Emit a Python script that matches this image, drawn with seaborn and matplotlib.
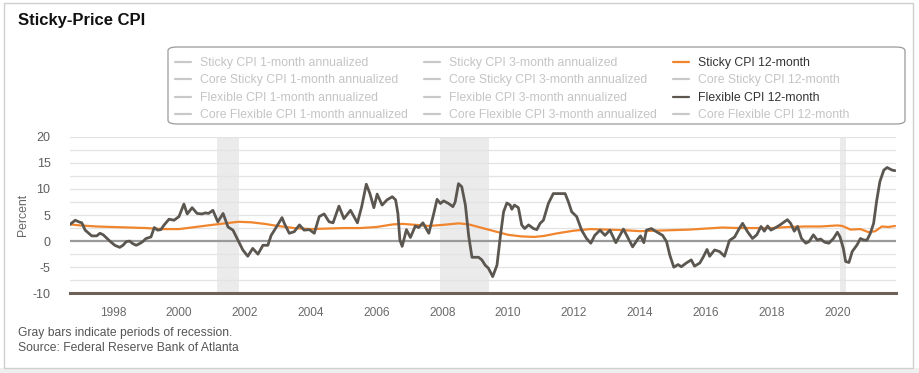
import matplotlib
matplotlib.use("Agg")
import matplotlib.pyplot as plt
import seaborn as sns
import pandas as pd
from matplotlib.lines import Line2D
from matplotlib.patches import FancyBboxPatch, Rectangle

# ---------------- data ----------------
flex_dates = [1996.69, 1996.85, 1996.95, 1997.05, 1997.15, 1997.35, 1997.5, 1997.6, 1997.7, 1997.9,
              1998.05, 1998.2, 1998.3, 1998.4, 1998.5, 1998.6, 1998.7, 1998.8, 1998.9, 1999.0,
              1999.15, 1999.25, 1999.35, 1999.45, 1999.55, 1999.7, 1999.85, 2000.0, 2000.15, 2000.25,
              2000.4, 2000.55, 2000.7, 2000.8, 2000.9, 2001.03, 2001.18, 2001.34, 2001.49, 2001.64,
              2001.79, 2001.94, 2002.09, 2002.24, 2002.4, 2002.55, 2002.7, 2002.8, 2002.95, 2003.13,
              2003.2, 2003.35, 2003.5, 2003.66, 2003.8, 2003.96, 2004.11, 2004.26, 2004.41, 2004.56,
              2004.68, 2004.86, 2005.01, 2005.21, 2005.42, 2005.55, 2005.69, 2005.8, 2005.92, 2006.02,
              2006.17, 2006.32, 2006.48, 2006.58, 2006.65, 2006.71, 2006.78, 2006.91, 2007.03, 2007.18,
              2007.28, 2007.41, 2007.59, 2007.74, 2007.84, 2007.94, 2008.04, 2008.19, 2008.32, 2008.39,
              2008.49, 2008.59, 2008.7, 2008.8, 2008.9, 2009.1, 2009.2, 2009.3, 2009.4, 2009.53,
              2009.66, 2009.76, 2009.86, 2009.96, 2010.06, 2010.11, 2010.19, 2010.31, 2010.41, 2010.5,
              2010.62, 2010.77, 2010.87, 2010.97, 2011.07, 2011.22, 2011.37, 2011.52, 2011.73, 2011.83,
              2011.93, 2012.08, 2012.23, 2012.38, 2012.51, 2012.63, 2012.79, 2012.94, 2013.09, 2013.27,
              2013.5, 2013.65, 2013.78, 2013.95, 2014.02, 2014.12, 2014.2, 2014.35, 2014.5, 2014.69,
              2014.81, 2014.91, 2015.03, 2015.16, 2015.26, 2015.41, 2015.56, 2015.66, 2015.82, 2015.92,
              2016.04, 2016.12, 2016.27, 2016.42, 2016.57, 2016.72, 2016.88, 2017.0, 2017.12, 2017.27,
              2017.42, 2017.55, 2017.68, 2017.78, 2017.88, 2017.98, 2018.13, 2018.28, 2018.48, 2018.58,
              2018.69, 2018.79, 2018.91, 2019.04, 2019.14, 2019.27, 2019.39, 2019.49, 2019.61, 2019.74,
              2019.88, 2020.0, 2020.08, 2020.18, 2020.25, 2020.35, 2020.45, 2020.6, 2020.7, 2020.8,
              2020.9, 2021.0, 2021.1, 2021.19, 2021.29, 2021.41, 2021.51, 2021.66, 2021.75]
flex_values = [3.2, 4.0, 3.7, 3.5, 2.1, 1.0, 1.0, 1.5, 1.2, 0.0,
               -0.8, -1.2, -0.8, -0.1, 0.0, -0.5, -0.8, -0.5, -0.1, 0.5,
               0.8, 2.6, 2.1, 2.2, 3.1, 4.2, 4.0, 4.7, 7.1, 5.2,
               6.4, 5.3, 5.2, 5.4, 5.3, 5.9, 3.7, 5.3, 2.7, 2.1,
               0.2, -1.7, -2.9, -1.4, -2.5, -0.8, -0.8, 1.1, 2.6, 4.5,
               3.4, 1.5, 1.8, 3.1, 2.1, 2.2, 1.5, 4.7, 5.2, 3.7,
               3.5, 6.7, 4.3, 5.9, 3.5, 6.6, 10.9, 9.1, 6.4, 9.0,
               6.9, 7.9, 8.5, 7.9, 5.3, 0.2, -1.0, 2.2, 0.7, 2.9,
               2.6, 3.5, 1.5, 5.3, 8.0, 7.2, 7.7, 7.2, 6.6, 7.5,
               11.0, 10.4, 6.9, 1.0, -3.1, -3.1, -3.6, -4.6, -5.2, -6.8,
               -4.6, 0.8, 5.6, 7.3, 6.9, 6.1, 6.9, 6.4, 3.1, 2.4,
               3.1, 2.4, 2.2, 3.4, 4.0, 7.2, 9.1, 9.1, 9.1, 7.5,
               5.6, 4.7, 2.1, 0.5, -0.4, 1.1, 2.1, 1.1, 2.1, -0.3,
               2.3, 0.5, -1.1, 0.5, 1.0, -0.3, 2.1, 2.4, 1.8, 1.1,
               -0.1, -2.7, -5.0, -4.5, -4.9, -4.2, -3.6, -4.8, -4.2, -3.1,
               -1.6, -2.9, -1.7, -2.0, -2.9, 0.1, 0.8, 2.2, 3.4, 1.8,
               0.5, 1.2, 2.8, 1.9, 2.9, 2.1, 2.6, 3.2, 4.1, 3.4,
               1.9, 2.8, 0.5, -0.4, -0.1, 1.2, 0.2, 0.4, -0.2, -0.4,
               0.5, 1.7, 0.8, -1.4, -3.9, -4.1, -2.0, -0.7, 0.5, 0.2,
               0.2, 1.5, 3.4, 7.6, 11.4, 13.6, 14.1, 13.6, 13.5]

sticky_dates = [1996.69, 1997.0, 1997.5, 1998.0, 1998.5, 1999.0, 1999.5, 2000.0, 2000.5, 2001.0,
                2001.4, 2001.8, 2002.2, 2002.6, 2003.0, 2003.5, 2004.0, 2004.5, 2005.0, 2005.5,
                2006.0, 2006.5, 2006.8, 2007.2, 2007.6, 2008.0, 2008.5, 2008.8, 2009.1, 2009.4,
                2009.7, 2010.0, 2010.4, 2010.8, 2011.1, 2011.5, 2012.0, 2012.5, 2013.0, 2013.5,
                2014.0, 2014.5, 2015.0, 2015.5, 2016.0, 2016.5, 2017.0, 2017.5, 2018.0, 2018.5,
                2019.0, 2019.5, 2020.0, 2020.15, 2020.4, 2020.7, 2020.95, 2021.15, 2021.35, 2021.55,
                2021.75]
sticky_values = [3.2, 3.0, 2.8, 2.7, 2.6, 2.5, 2.3, 2.3, 2.7, 3.1,
                 3.4, 3.7, 3.6, 3.3, 2.9, 2.5, 2.3, 2.4, 2.5, 2.5,
                 2.7, 3.2, 3.3, 3.1, 2.9, 3.1, 3.4, 3.2, 2.7, 2.2,
                 1.7, 1.2, 0.9, 0.8, 1.0, 1.5, 2.0, 2.3, 2.2, 2.1,
                 1.9, 2.0, 2.1, 2.2, 2.4, 2.6, 2.5, 2.5, 2.5, 2.7,
                 2.8, 2.8, 3.0, 2.9, 2.2, 2.3, 1.7, 1.9, 2.8, 2.7,
                 2.9]

recession_starts = [2001.17, 2007.92, 2020.08]
recession_ends = [2001.83, 2009.42, 2020.25]

year_ticks = list(range(1998, 2021, 2))
y_ticks = [-10, -5, 0, 5, 10, 15, 20]

legend_labels = [
    "Sticky CPI 1-month annualized", "Core Sticky CPI 1-month annualized",
    "Flexible CPI 1-month annualized", "Core Flexible CPI 1-month annualized",
    "Sticky CPI 3-month annualized", "Core Sticky CPI 3-month annualized",
    "Flexible CPI 3-month annualized", "Core Flexible CPI 3-month annualized",
    "Sticky CPI 12-month", "Core Sticky CPI 12-month",
    "Flexible CPI 12-month", "Core Flexible CPI 12-month",
]
active_labels = {"Sticky CPI 12-month": "#f0852d", "Flexible CPI 12-month": "#5b5650"}

# ---------------- styling ----------------
sns.set_theme(style="white")
plt.rcParams["font.family"] = ["Liberation Sans", "DejaVu Sans"]

W, H = 920, 373
fig = plt.figure(figsize=(W / 100, H / 100), dpi=100)

def fx(px):
    return px / W

def fy(py):
    return 1 - py / H

# outer frame and bottom strip
fig.add_artist(Rectangle((0, 0), 1, fy(368), transform=fig.transFigure,
                         facecolor="#efefef", edgecolor="none", zorder=0))
fig.add_artist(Rectangle((fx(4), fy(368)), fx(909), fy(3) - fy(368), transform=fig.transFigure,
                         facecolor="none", edgecolor="#cfcfcf", lw=1, zorder=1))

ax = fig.add_axes([fx(70), fy(293.3), fx(896 - 70), fy(136.7) - fy(293.3)])

flex_df = pd.DataFrame({"date": flex_dates, "value": flex_values})
sticky_df = pd.DataFrame({"date": sticky_dates, "value": sticky_values})

for s, e in zip(recession_starts, recession_ends):
    ax.axvspan(s, e, color="#ebebeb", lw=0, zorder=0)

for v in [-7.5, -5, -2.5, 2.5, 5, 7.5, 10, 12.5, 15, 17.5, 20]:
    ax.axhline(v, color="#e3e3e3", lw=0.9, zorder=0.5)
ax.axhline(0, color="#9a9a9a", lw=1.6, zorder=1)

sns.lineplot(data=sticky_df, x="date", y="value", ax=ax, color="#f0852d", lw=1.6, zorder=3)
sns.lineplot(data=flex_df, x="date", y="value", ax=ax, color="#5b5650", lw=2.0, zorder=4)

ax.set_xlim(1996.69, 2021.78)
ax.set_ylim(-10, 20)
ax.set_yticks(y_ticks)
ax.set_yticklabels([str(v) for v in y_ticks])
ax.set_xticks(year_ticks)
ax.set_xticklabels([str(v) for v in year_ticks])
ax.tick_params(axis="y", length=0, pad=14, labelsize=9, labelcolor="#5e5e5e")
ax.tick_params(axis="x", length=7, width=0.8, color="#cccccc", pad=3,
               labelsize=8.6, labelcolor="#6a6a6a", direction="out")
ax.set_xlabel("")
ax.set_ylabel("Percent", fontsize=8.8, color="#666666")
ax.yaxis.set_label_coords((29 - 70) / 826, 0.5)
for side in ["top", "right", "left"]:
    ax.spines[side].set_visible(False)
ax.spines["bottom"].set_color("#6d6259")
ax.spines["bottom"].set_linewidth(2.2)
ax.patch.set_alpha(0)
ax.grid(False)

# title and footer
fig.text(fx(18), fy(21), "Sticky-Price CPI", fontsize=12, fontweight="bold",
         color="#111111", va="center", ha="left")
fig.text(fx(18), fy(333), "Gray bars indicate periods of recession.", fontsize=8.7,
         color="#555555", va="center", ha="left")
fig.text(fx(18), fy(348), "Source: Federal Reserve Bank of Atlanta", fontsize=8.7,
         color="#555555", va="center", ha="left")

# legend
handles = []
for lab in legend_labels:
    c = active_labels.get(lab, "#c9c9c9")
    handles.append(Line2D([0], [0], color=c, lw=1.6))
leg = fig.legend(handles, legend_labels, ncol=3, loc="upper left",
                 bbox_to_anchor=(fx(175), fy(57)), frameon=False, fontsize=8.8,
                 handlelength=1.3, handletextpad=0.75, columnspacing=1.3,
                 labelspacing=0.45, borderaxespad=0, borderpad=0)
for txt in leg.get_texts():
    t = txt.get_text()
    txt.set_color("#333333" if t in active_labels else "#c4c4c4")

fig.add_artist(FancyBboxPatch((fx(168), fy(124)), fx(905 - 168), fy(47) - fy(124),
                              boxstyle="round,pad=0,rounding_size=0.01",
                              transform=fig.transFigure, facecolor="none",
                              edgecolor="#9a9a9a", lw=0.9))

fig.savefig("out.png", dpi=100)
